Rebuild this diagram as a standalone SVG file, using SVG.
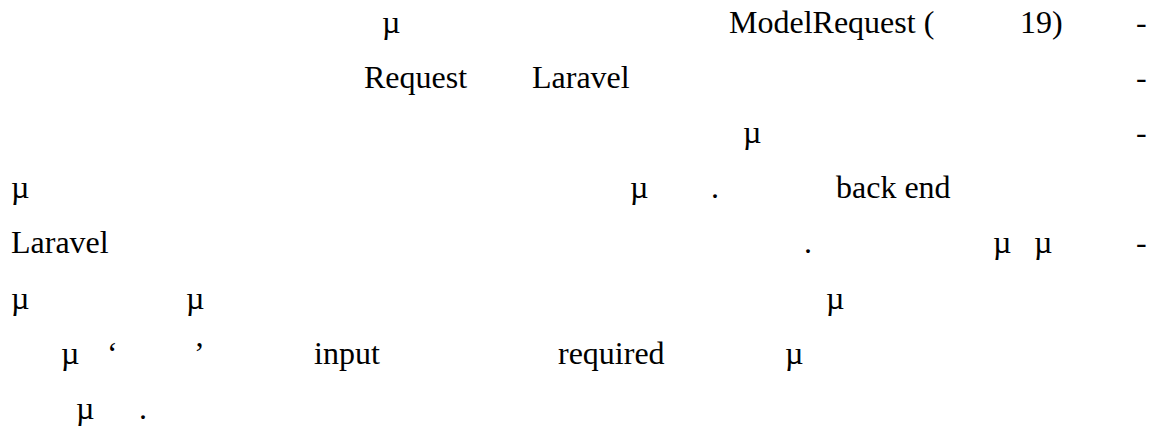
<svg xmlns="http://www.w3.org/2000/svg" width="1152" height="431" viewBox="0 0 1152 431">
<style>
.t { font-family: "Times New Roman", Times, Tinos, "Liberation Serif", "DejaVu Serif", serif; font-size: 32px; fill: #000000; }
</style>
<rect width="1152" height="431" fill="#ffffff"/>
<g class="t">
<g id="line1">
<text x="382" y="33">µ</text>
<text x="729" y="33">ModelRequest (</text>
<text x="1020" y="33">19)</text>
<text x="1136" y="33">-</text>
</g>
<g id="line2">
<text x="364" y="88">Request</text>
<text x="532" y="88">Laravel</text>
<text x="1136" y="88">-</text>
</g>
<g id="line3">
<text x="743" y="143">µ</text>
<text x="1136" y="143">-</text>
</g>
<g id="line4">
<text x="11" y="198">µ</text>
<text x="630" y="198">µ</text>
<text x="711" y="198">.</text>
<text x="836" y="198">back end</text>
</g>
<g id="line5">
<text x="11" y="253">Laravel</text>
<text x="804" y="253">.</text>
<text x="993" y="253">µ</text>
<text x="1034" y="253">µ</text>
<text x="1136" y="253">-</text>
</g>
<g id="line6">
<text x="11" y="309">µ</text>
<text x="186" y="309">µ</text>
<text x="826" y="309">µ</text>
</g>
<g id="line7">
<text x="61" y="364">µ</text>
<text x="107" y="364">‘</text>
<text x="194" y="364">’</text>
<text x="314" y="364">input</text>
<text x="558" y="364">required</text>
<text x="785" y="364">µ</text>
</g>
<g id="line8">
<text x="76" y="419">µ</text>
<text x="139" y="419">.</text>
</g>
</g>
</svg>
